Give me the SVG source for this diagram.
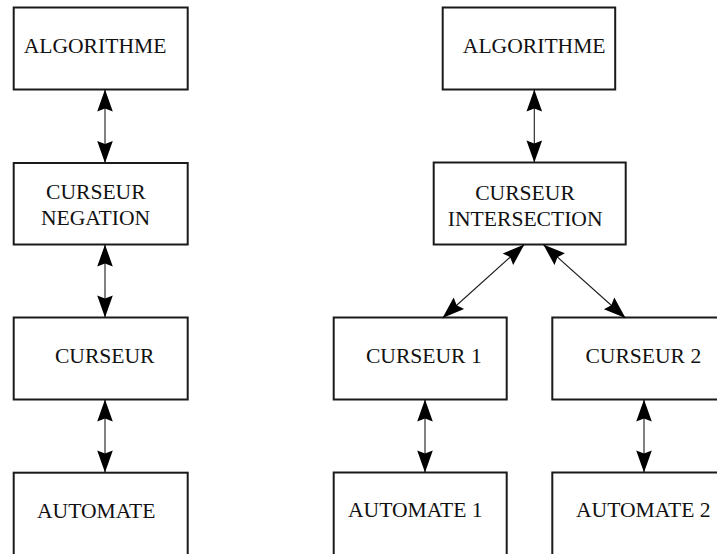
<svg xmlns="http://www.w3.org/2000/svg" width="717" height="554" viewBox="0 0 717 554">
  <style>
    .box { fill: #ffffff; stroke: #1a1a1a; stroke-width: 2; }
    .lbl { font-family: "Liberation Serif", "Times New Roman", serif; font-size: 21.6px; fill: #111111; text-anchor: middle; }
    .link { fill: none; stroke: #1a1a1a; stroke-width: 1.1; marker-start: url(#head); marker-end: url(#head); }
  </style>
  <defs>
    <!-- filled arrowhead, tip at the line end, reversed at the start -->
    <marker id="head" markerUnits="userSpaceOnUse" markerWidth="25" markerHeight="18" viewBox="-24 -9 25 18" refX="0" refY="0" orient="auto-start-reverse">
      <path d="M0,0 L-22,-7.8 L-19,0 L-22,7.8 Z" fill="#000000"/>
    </marker>
  </defs>
  <rect width="717" height="554" fill="#ffffff"/>

  <!-- left chain -->
  <g id="algorithme-left">
    <rect class="box" x="13.7" y="7.5" width="174" height="82"/>
    <text class="lbl" x="95" y="53.3">ALGORITHME</text>
  </g>
  <g id="curseur-negation">
    <rect class="box" x="13.7" y="163" width="174" height="81.5"/>
    <text class="lbl" x="95.8" y="199.3">CURSEUR</text>
    <text class="lbl" x="95.5" y="225.3">NEGATION</text>
  </g>
  <g id="curseur">
    <rect class="box" x="13.7" y="317.5" width="174" height="82"/>
    <text class="lbl" x="104.7" y="362.7">CURSEUR</text>
  </g>
  <g id="automate">
    <rect class="box" x="13.7" y="472.7" width="174" height="84"/>
    <text class="lbl" x="96.2" y="518">AUTOMATE</text>
  </g>

  <!-- right tree -->
  <g id="algorithme-right">
    <rect class="box" x="442.7" y="7.5" width="172.5" height="82"/>
    <text class="lbl" x="534.2" y="53.3">ALGORITHME</text>
  </g>
  <g id="curseur-intersection">
    <rect class="box" x="433.7" y="162.5" width="192" height="82"/>
    <text class="lbl" x="525" y="200">CURSEUR</text>
    <text class="lbl" x="525.2" y="226">INTERSECTION</text>
  </g>
  <g id="curseur-1">
    <rect class="box" x="333.7" y="317.5" width="173" height="82"/>
    <text class="lbl" x="423.8" y="362.7">CURSEUR 1</text>
  </g>
  <g id="curseur-2">
    <rect class="box" x="552.3" y="317.5" width="173" height="82"/>
    <text class="lbl" x="643.3" y="362.7">CURSEUR 2</text>
  </g>
  <g id="automate-1">
    <rect class="box" x="333.7" y="472.5" width="173" height="84"/>
    <text class="lbl" x="415.3" y="517.3">AUTOMATE 1</text>
  </g>
  <g id="automate-2">
    <rect class="box" x="552.3" y="472.5" width="173" height="84"/>
    <text class="lbl" x="643.3" y="517.3">AUTOMATE 2</text>
  </g>

  <!-- connectors, drawn over the box edges so the arrow tips touch them -->
  <g id="connectors">
    <path class="link" d="M105,89.5 L105,163"/>
    <path class="link" d="M105,244.5 L105,317.5"/>
    <path class="link" d="M105,399.5 L105,472.5"/>
    <path class="link" d="M534.3,89.5 L534.3,162.5"/>
    <path class="link" d="M524.3,244.5 L442.5,318"/>
    <path class="link" d="M543.3,244.5 L625.5,318"/>
    <path class="link" d="M425,399.5 L425,472.5"/>
    <path class="link" d="M644,399.5 L644,472.5"/>
  </g>
</svg>
